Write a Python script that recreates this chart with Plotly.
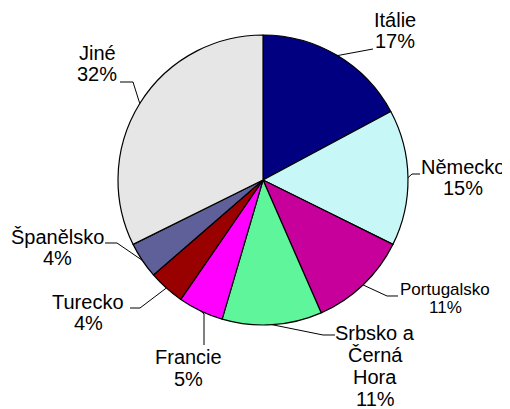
import math
import plotly.graph_objects as go

# ---- data ----
categories = ["Itálie", "Německo", "Portugalsko", "Srbsko a<br>Černá<br>Hora",
              "Francie", "Turecko", "Španělsko", "Jiné"]
values = [17, 15, 11, 11, 5, 4, 4, 32]
colors = ["#000080", "#C8F7F7", "#C8009B", "#5EF59B",
          "#FF00FF", "#990000", "#5F5F99", "#E6E6E6"]

# ---- layout constants (window pixels) ----
WIN_W, WIN_H = 510, 409
OFF = 8  # default page body margin
W, H = WIN_W - OFF, WIN_H - OFF
CX, CY, R = 263, 180, 145
FONT = "Liberation Sans, Arial, sans-serif"


def px(x):
    return (x - OFF) / W


def py(y):
    return 1 - (y - OFF) / H


# label placement: text centre x, first-line centre y, line step, font size, leader points after start
label_layout = [
    dict(tx=395, ty=20, step=21, fs=20, pts=[(373, 49)]),
    dict(tx=463, ty=167, step=21, fs=20, pts=[(412, 174), (420, 174)]),
    dict(tx=445, ty=289, step=18, fs=17, pts=[(387, 296), (398, 296)]),
    dict(tx=375, ty=333, step=22, fs=20, pts=[(323, 335), (335, 335)]),
    dict(tx=188, ty=357, step=22, fs=20, pts=[(204, 314), (204, 345)]),
    dict(tx=88, ty=302, step=21, fs=20, pts=[(140, 308), (130, 308)]),
    dict(tx=57, ty=237, step=21, fs=20, pts=[(117, 243), (105, 243)]),
    dict(tx=97, ty=53, step=21, fs=20, pts=[(133, 82), (120, 82)]),
]

fig = go.Figure(go.Pie(
    labels=[c.replace("<br>", " ") for c in categories],
    values=values,
    sort=False,
    direction="clockwise",
    rotation=0,
    marker=dict(colors=colors, line=dict(color="#000000", width=1.2)),
    textinfo="none",
    hoverinfo="label+percent",
    showlegend=False,
    domain=dict(x=[px(CX - R), px(CX + R)], y=[py(CY + R), py(CY - R)]),
))

total = sum(values)
annotations = []
shapes = []
cum = 0
for cat, v, lay in zip(categories, values, label_layout):
    mid = (cum + v / 2) / total * 2 * math.pi
    cum += v
    sx = CX + R * math.sin(mid)
    sy = CY - R * math.cos(mid)
    pts = [(sx, sy)] + lay["pts"]
    path = "M " + " L ".join(f"{px(x):.5f} {py(y):.5f}" for x, y in pts)
    shapes.append(dict(type="path", xref="paper", yref="paper", path=path,
                       line=dict(color="#000000", width=1)))
    lines = cat.split("<br>") + [f"{round(v / total * 100)}%"]
    for i, ln in enumerate(lines):
        annotations.append(dict(
            x=px(lay["tx"]), y=py(lay["ty"] + i * lay["step"]),
            xref="paper", yref="paper", text=ln, showarrow=False,
            xanchor="center", yanchor="middle",
            font=dict(family=FONT, size=lay["fs"], color="#000000"),
        ))

fig.update_layout(
    width=W, height=H,
    margin=dict(l=0, r=0, t=0, b=0),
    paper_bgcolor="white", plot_bgcolor="white",
    annotations=annotations, shapes=shapes,
)

fig.write_html("out.html")
